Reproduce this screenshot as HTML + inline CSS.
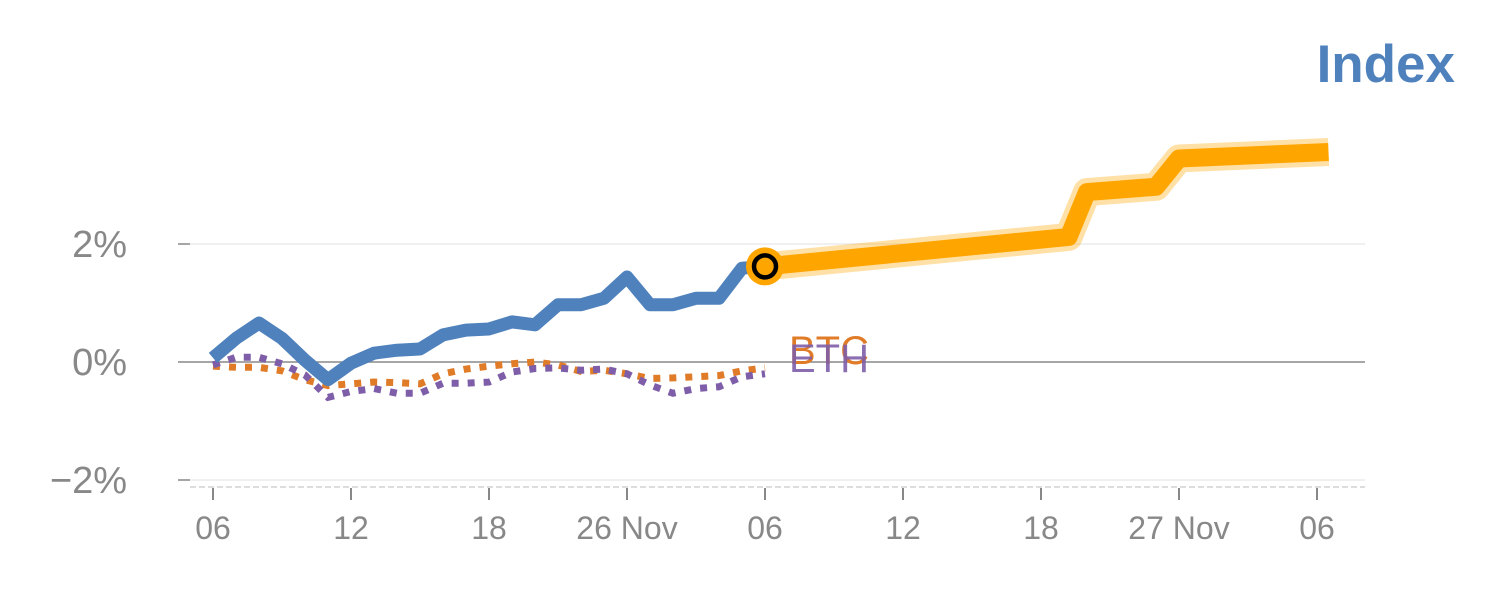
<!DOCTYPE html>
<html><head><meta charset="utf-8"><style>
html,body{margin:0;padding:0;background:#fff;}
svg{display:block;font-family:"Liberation Sans",Arial,sans-serif;}
</style></head><body>
<svg id="chart" width="1500" height="600" viewBox="0 0 1500 600">
<text x="1455" y="82" text-anchor="end" font-size="53" font-weight="bold" fill="#4f81bd">Index</text>
<g id="grid"></g><g id="series"></g><g id="labels"></g>
</svg>
<script>
const yTicks = [2, 0, -2];
const yTickLabels = ["2%", "0%", "\u22122%"];
const xTickDays = [0, 6, 12, 18, 24, 30, 36, 42, 48];
const xTickLabels = ["06", "12", "18", "26 Nov", "06", "12", "18", "27 Nov", "06"];
const histDays = [0,1,2,3,4,5,6,7,8,9,10,11,12,13,14,15,16,17,18,19,20,21,22,23,24];
const indexValues = [0.07,0.4,0.66,0.4,0.03,-0.3,-0.02,0.15,0.2,0.22,0.46,0.54,0.56,0.68,0.63,0.97,0.97,1.08,1.44,0.97,0.97,1.08,1.08,1.59,1.62];
const btcValues = [-0.07,-0.09,-0.09,-0.15,-0.3,-0.4,-0.37,-0.34,-0.35,-0.37,-0.2,-0.12,-0.07,-0.03,0,-0.05,-0.16,-0.14,-0.2,-0.28,-0.27,-0.25,-0.23,-0.15,-0.1];
const ethValues = [-0.05,0.08,0.08,-0.03,-0.22,-0.6,-0.5,-0.45,-0.53,-0.53,-0.36,-0.36,-0.34,-0.17,-0.11,-0.1,-0.14,-0.12,-0.2,-0.39,-0.53,-0.45,-0.42,-0.25,-0.2];
const forecastDays = [24,37.2,38,41,42,48.5];
const forecastValues = [1.62,2.12,2.88,2.97,3.45,3.56];

const NS = "http://www.w3.org/2000/svg";
const xScale = d => 213 + d * 23;
const yScale = v => 362 - v * 59;
function mk(tag, attrs, parent){const e=document.createElementNS(NS,tag);for(const k in attrs)e.setAttribute(k,attrs[k]);parent.appendChild(e);return e;}
const grid=document.getElementById('grid'), series=document.getElementById('series'), labels=document.getElementById('labels');

yTicks.forEach((t,i)=>{
  const y=yScale(t);
  const gl=mk('line',{x1:190,x2:1365,y1:y,y2:y,stroke:t===0?'#888':'#e6e6e6','stroke-width':t===0?1.5:1.2},grid);
  
  
  const tk=mk('line',{x1:178,x2:190,y1:y,y2:y,stroke:'#888','stroke-width':1.5},grid);
  
  
  const tx=mk('text',{x:127,y:y+13,'text-anchor':'end','font-size':38,fill:'#888'},labels);
  tx.textContent=yTickLabels[i];
  
  
});
const ax=mk('line',{x1:190,x2:1365,y1:487,y2:487,stroke:'#ddd','stroke-width':2,'stroke-dasharray':'6,3'},grid);


xTickDays.forEach((d,i)=>{
  const x=xScale(d);
  const tk=mk('line',{x1:x,x2:x,y1:488,y2:500,stroke:'#888','stroke-width':2},grid);
  
  
  const tx=mk('text',{x:x,y:539,'text-anchor':'middle','font-size':32,fill:'#888'},labels);
  tx.textContent=xTickLabels[i];
  
  
});
const pts=(ds,vs)=>ds.map((d,i)=>xScale(d)+','+yScale(vs[i])).join(' ');

const fh=mk('polyline',{points:pts(forecastDays,forecastValues),fill:'none',stroke:'#ffa500','stroke-opacity':0.35,'stroke-width':28,'stroke-linejoin':'round'},series);


const fl=mk('polyline',{points:pts(forecastDays,forecastValues),fill:'none',stroke:'#ffa500','stroke-width':18,'stroke-linejoin':'round'},series);



const bl=mk('polyline',{points:pts(histDays,btcValues),fill:'none',stroke:'#e07b28','stroke-width':7,'stroke-dasharray':'7,9'},series);


const el=mk('polyline',{points:pts(histDays,ethValues),fill:'none',stroke:'#7e5ea8','stroke-width':7,'stroke-dasharray':'7,9'},series);


const il=mk('polyline',{points:pts(histDays,indexValues),fill:'none',stroke:'#4f81bd','stroke-width':13,'stroke-linejoin':'round'},series);



const last=histDays.length-1;
const c1=mk('circle',{cx:xScale(histDays[last]),cy:yScale(indexValues[last]),r:19,fill:'#ffa500'},series);


const c2=mk('circle',{cx:xScale(histDays[last]),cy:yScale(indexValues[last]),r:11,fill:'#ffa500',stroke:'#000','stroke-width':4.5},series);



const lb=mk('text',{x:xScale(histDays[last])+24,y:yScale(btcValues[last])-4,'font-size':40,fill:'#e07b28'},labels);
lb.textContent='BTC';


const le=mk('text',{x:xScale(histDays[last])+24,y:yScale(ethValues[last])-2,'font-size':40,fill:'#7e5ea8','fill-opacity':0.9},labels);
le.textContent='ETH';


</script>
</body></html>
